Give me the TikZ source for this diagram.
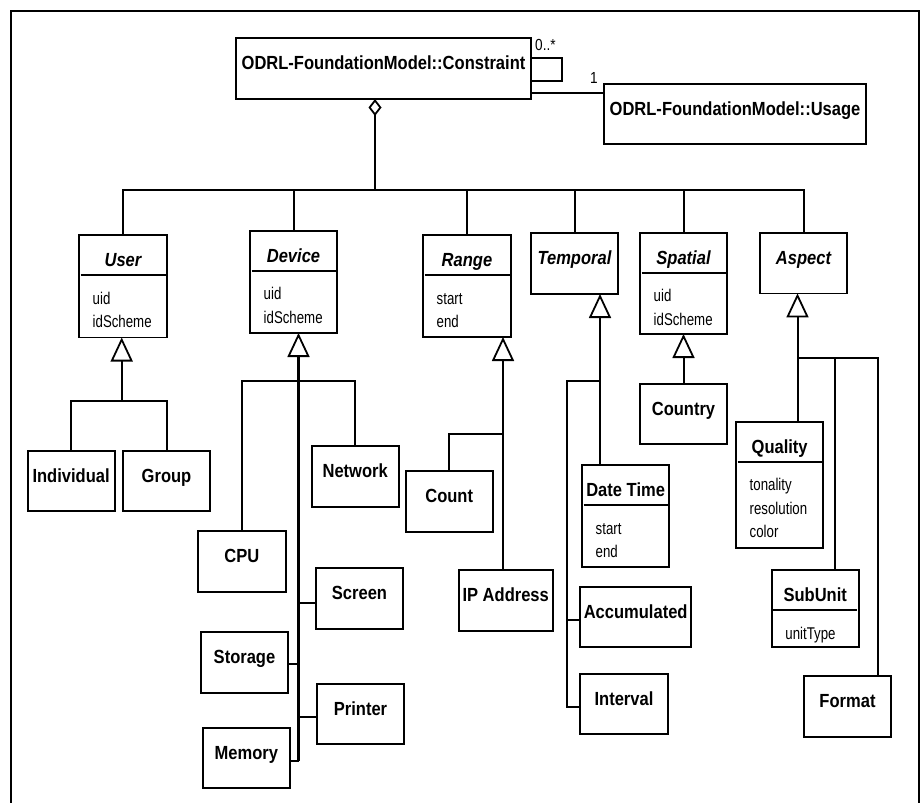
\documentclass[tikz,border=0pt]{standalone}
\usepackage{fontspec}
\setmainfont{Liberation Sans}
\newfontfamily\tfont{Liberation Sans}[FakeStretch=0.87]
\newfontfamily\afont{Liberation Sans}[FakeStretch=0.78]
\newfontfamily\mfont{Liberation Sans}[FakeStretch=0.85]
\usetikzlibrary{calc,arrows.meta}
\tikzset{
  box/.style={draw, line width=1.8pt, anchor=north west, inner sep=0pt, outer sep=0pt, fill=white},
  ttl/.style={anchor=base, inner sep=0pt, font=\tfont\bfseries\fontsize{19}{20}\selectfont},
  ittl/.style={ttl, font=\tfont\bfseries\itshape\fontsize{19}{20}\selectfont},
  attr/.style={anchor=base west, inner sep=0pt, font=\afont\fontsize{17}{18}\selectfont},
  mult/.style={inner sep=0pt, font=\mfont\fontsize{16}{17}\selectfont},
  sepline/.style={line width=2pt},
  conn/.style={draw, line width=2pt},
  trunk/.style={draw, line width=2.8pt},
  gen/.style={conn, -{Triangle[open, length=24pt, width=22pt, line width=1.8pt]}},
  agg/.style={conn, -{Diamond[open, length=17pt, width=13pt, line width=1.8pt]}},
  frame/.style={line width=2pt}
}
\newcommand\umlbox[7]{% name, x, y, w, h, title, style
  \node[box, minimum width=#4pt, minimum height=#5pt] (#1) at (#2,#3) {};
  \node[#7] (#1-t) at ($(#1.north)+(0,31.5)$) {#6};
}
\newcommand\umlsep[1]{%
  \draw[sepline] ($(#1.north west)+(1.5,40)$) -- ($(#1.north east)+(-1.5,40)$);
}
\newcommand\umlattr[3]{% box, index, text
  \node[attr] (#1-a#2) at ($(#1.north west)+(13.5,{69+23.5*(#2-1)})$) {#3};
}
\begin{document}
\begin{tikzpicture}[x=1pt,y=-1pt]
\useasboundingbox (0,0) rectangle (921,803);
\draw[frame] (11,803) -- (11,11) -- (919,11) -- (919,803);

% top
\umlbox{con}{236}{38}{295}{61}{ODRL-FoundationModel::Constraint}{ttl}
\umlbox{usage}{604}{84.3}{262}{60}{ODRL-FoundationModel::Usage}{ttl}

% abstract classes
\umlbox{user}{79}{235}{88}{102.5}{User}{ittl}
\umlsep{user}\umlattr{user}{1}{uid}\umlattr{user}{2}{idScheme}
\umlbox{dev}{250}{230.7}{87}{102.3}{Device}{ittl}
\umlsep{dev}\umlattr{dev}{1}{uid}\umlattr{dev}{2}{idScheme}
\umlbox{rng}{423}{235}{88}{102}{Range}{ittl}
\umlsep{rng}\umlattr{rng}{1}{start}\umlattr{rng}{2}{end}
\umlbox{tmp}{531}{232.7}{87}{61.3}{Temporal}{ittl}
\umlbox{spa}{640}{232.7}{87}{101.3}{Spatial}{ittl}
\umlsep{spa}\umlattr{spa}{1}{uid}\umlattr{spa}{2}{idScheme}
\umlbox{asp}{760}{233}{87}{60.4}{Aspect}{ittl}

% concrete classes
\umlbox{indiv}{27.6}{450.6}{87}{60}{Individual}{ttl}
\umlbox{grp}{123}{450.6}{87}{60}{Group}{ttl}
\umlbox{net}{311.7}{446}{87}{60.7}{Network}{ttl}
\umlbox{cpu}{198}{531}{87.7}{60.7}{CPU}{ttl}
\umlbox{scr}{316}{568}{87}{60.7}{Screen}{ttl}
\umlbox{sto}{201}{632}{87}{60.7}{Storage}{ttl}
\umlbox{prn}{317}{684}{87}{60}{Printer}{ttl}
\umlbox{mem}{202.7}{727.7}{87.3}{60.3}{Memory}{ttl}
\umlbox{cnt}{405.7}{471}{87}{60.7}{Count}{ttl}
\umlbox{ip}{458.7}{570}{94}{60.7}{IP Address}{ttl}
\umlbox{dt}{582}{465}{87.3}{101.7}{Date Time}{ttl}
\umlsep{dt}\umlattr{dt}{1}{start}\umlattr{dt}{2}{end}
\umlbox{acc}{580.3}{587.3}{110.7}{60}{Accumulated}{ttl}
\umlbox{int}{580.3}{674}{87.4}{60}{Interval}{ttl}
\umlbox{ctry}{640}{384}{87}{60.3}{Country}{ttl}
\umlbox{qual}{736}{421.7}{87.3}{126.6}{Quality}{ttl}
\umlsep{qual}\umlattr{qual}{1}{tonality}\umlattr{qual}{2}{resolution}\umlattr{qual}{3}{color}
\umlbox{sub}{771.7}{570}{87}{77.3}{SubUnit}{ttl}
\umlsep{sub}\umlattr{sub}{1}{unitType}
\umlbox{fmt}{804}{676}{87}{60.7}{Format}{ttl}

% associations at top
\draw[conn] ([yshift=10.5pt]con.east) -| ([xshift=31pt,yshift=-12.5pt]con.east) -- ([yshift=-12.5pt]con.east);
\node[mult, anchor=base west] (m0) at (535,50) {0..*};
\path ([yshift=-24.2pt]con.east) coordinate (asc);
\draw[conn] (asc) -- (asc -| usage.west);
\node[mult, anchor=base] (m1) at (594,83) {1};

% aggregation bus
\coordinate (bus) at (375,190);
\draw[agg] (bus) -- (con.south -| bus);
\draw[conn] (user.north) |- (asp.north |- bus) -- (asp.north);
\draw[conn] (dev.north) -- (dev.north |- bus);
\draw[conn] (rng.north) -- (rng.north |- bus);
\draw[conn] (tmp.north) -- (tmp.north |- bus);
\draw[conn] (spa.north) -- (spa.north |- bus);

% User
\coordinate (uj) at (121.7,401);
\draw[gen] (uj) -- (user.south -| uj);
\draw[conn] (indiv.north) |- (uj) -| (grp.north);

% Device
\coordinate (dj) at (298.5,380.7);
\draw[trunk, -{Triangle[open, length=24pt, width=22pt, line width=1.8pt]}] (dj) -- (dev.south -| dj);
\draw[conn] (cpu.north) |- (dj) -| (net.north);
\path ([yshift=-3pt]mem.east) coordinate (memst);
\draw[trunk] (dj) -- (dj |- memst);
\draw[conn] ([yshift=-5pt]scr.west) -- ([yshift=-5pt]scr.west -| dj);
\draw[conn] ([yshift=-2pt]sto.east) -- ([yshift=-2pt]sto.east -| dj);
\draw[conn] ([yshift=-3pt]prn.west) -- ([yshift=-3pt]prn.west -| dj);
\draw[conn] (memst) -- (memst -| dj);

% Range
\coordinate (rj) at (503,434);
\draw[gen] (rj |- ip.north) -- (rj |- rng.south);
\draw[conn] (cnt.north) |- (rj);

% Temporal
\coordinate (tj) at (600,380.7);
\coordinate (tl) at (567.3,380.7);
\draw[gen] (tj |- dt.north) -- (tj |- tmp.south);
\path ([yshift=-3pt]int.west) coordinate (intst);
\path ([yshift=-3pt]acc.west) coordinate (accst);
\draw[conn] (tj) -- (tl) |- (intst);
\draw[conn] (tl |- accst) -- (accst);

% Spatial
\draw[gen] (ctry.north) -- (ctry.north |- spa.south);

% Aspect
\coordinate (aj) at (797.5,358.3);
\coordinate (a2) at (835,358.3);
\coordinate (a3) at (878.3,358.3);
\draw[gen] (aj |- qual.north) -- (aj |- asp.south);
\draw[conn] (aj) -- (a3) -- (a3 |- fmt.north);
\draw[conn] (a2) -- (a2 |- sub.north);
\end{tikzpicture}
\end{document}
